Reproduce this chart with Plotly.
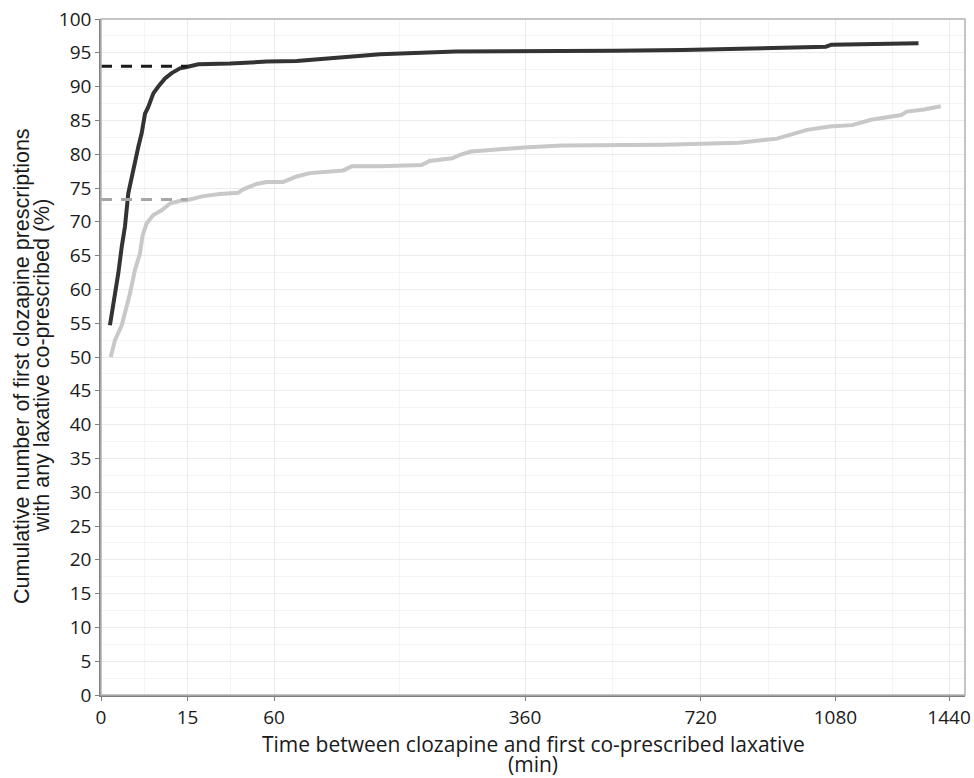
import numpy as np
import plotly.graph_objects as go

# Time (minutes) and cumulative % for each series
dark_t = [0.16, 0.39, 0.6, 0.86, 1.15, 1.49, 1.88, 2.31, 2.79, 3.31, 3.88, 4.48, 5.48, 6.58,
          8.2, 10.0, 12.5, 14.7, 19.0, 33.3, 38.7, 55, 76.7, 90.3, 120.9, 155.8, 252, 377,
          528, 677, 864, 1052, 1068, 1338]
dark_v = [54.7, 58.9, 62.4, 66.3, 69.3, 74.2, 76.7, 78.7, 81.1, 83.1, 86.0, 87.0, 89.0, 90.0,
          91.2, 92.0, 92.7, 92.9, 93.3, 93.4, 93.5, 93.7, 93.8, 94.0, 94.4, 94.8, 95.2, 95.2,
          95.3, 95.4, 95.6, 95.9, 96.2, 96.4]

light_t = [0.19, 0.39, 0.86, 1.32, 1.68, 2.31, 3.04, 3.47, 4.18, 5.48, 7.37, 9.53, 12.5, 14.7,
           18.3, 21.0, 28.3, 37.7, 40.5, 48.5, 55, 66.5, 76.7, 87.4, 117.5, 125.8, 155.8, 206,
           216, 247, 258, 274, 358, 425, 634, 815, 915, 940, 998, 1063, 1130, 1187, 1282, 1300,
           1356, 1412]
light_v = [50.0, 52.5, 54.7, 57.4, 59.4, 62.9, 65.3, 68.0, 69.8, 71.0, 71.7, 72.7, 73.1, 73.2,
           73.5, 73.8, 74.1, 74.3, 74.8, 75.6, 75.9, 75.9, 76.7, 77.2, 77.6, 78.2, 78.2, 78.4,
           79.0, 79.4, 79.9, 80.4, 81.0, 81.3, 81.4, 81.7, 82.3, 82.7, 83.6, 84.1, 84.3, 85.1,
           85.8, 86.3, 86.6, 87.1]

# Reference dashed levels at 15 minutes
ref_t = [0, 15]
dark_ref = 93.0
light_ref = 73.3

x_ticks = [0, 15, 60, 360, 720, 1080, 1440]
y_ticks = list(range(0, 101, 5))

x_title_lines = ["Time between clozapine and first co-prescribed laxative", "(min)"]
y_title_lines = ["Cumulative number of first clozapine prescriptions",
                 "with any laxative co-prescribed (%)"]

sq = np.sqrt
xt = sq(np.array(x_ticks, dtype=float))
x_minor = [(xt[i] + xt[i + 1]) / 2 for i in range(len(xt) - 1)]

fig = go.Figure()
fig.add_trace(go.Scatter(x=sq(np.array(light_t)), y=light_v, mode="lines",
                         line=dict(color="#c8c8c8", width=4), showlegend=False))
fig.add_trace(go.Scatter(x=sq(np.array(dark_t)), y=dark_v, mode="lines",
                         line=dict(color="#333333", width=4), showlegend=False))
fig.add_trace(go.Scatter(x=sq(np.array(ref_t, dtype=float)), y=[dark_ref, dark_ref], mode="lines",
                         line=dict(color="#1a1a1a", width=3, dash="11px,9px"), showlegend=False))
fig.add_trace(go.Scatter(x=sq(np.array(ref_t, dtype=float)), y=[light_ref, light_ref], mode="lines",
                         line=dict(color="#a6a6a6", width=3, dash="11px,9px"), showlegend=False))

tick_font = dict(family="Open Sans, Noto Sans, sans-serif", size=19, color="#1a1a1a")

fig.update_layout(
    width=974, height=778,
    margin=dict(l=101, r=9, t=19, b=83),
    paper_bgcolor="white", plot_bgcolor="white",
    font=dict(family="Open Sans, sans-serif", size=16, color="#1a1a1a"),
)
fig.update_xaxes(
    range=[0, 38.66], tickmode="array", tickvals=list(xt), ticktext=[str(v) for v in x_ticks],
    showgrid=True, gridcolor="#ebebeb", gridwidth=1,
    minor=dict(tickmode="array", tickvals=x_minor, showgrid=True, gridcolor="#f4f4f4", gridwidth=1, ticks=""),
    showline=True, linecolor="#7f7f7f", linewidth=1.5, mirror=False,
    ticks="outside", ticklen=4, tickcolor="#7f7f7f", ticklabeloverflow="allow",
    tickfont=tick_font, zeroline=False, automargin=False,
)
fig.update_yaxes(
    range=[0, 100], tickmode="array", tickvals=y_ticks, ticktext=[str(v) for v in y_ticks],
    showgrid=True, gridcolor="#ebebeb", gridwidth=1,
    minor=dict(dtick=2.5, showgrid=True, gridcolor="#f4f4f4", gridwidth=1, ticks=""),
    showline=True, linecolor="#7f7f7f", linewidth=1.5,
    ticks="outside", ticklen=4, tickcolor="#7f7f7f", ticklabeloverflow="allow",
    tickfont=tick_font, zeroline=False, automargin=False,
)
# axis titles
for line, ys in zip(x_title_lines, [-49, -69]):
    fig.add_annotation(text=line, xref="paper", yref="paper", x=0.5, y=0, yshift=ys,
                       xanchor="center", yanchor="middle", showarrow=False,
                       font=dict(family="Open Sans, Noto Sans, sans-serif", size=21, color="#1a1a1a"))
for line, xs in zip(y_title_lines, [-79, -59]):
    fig.add_annotation(text=line, xref="paper", yref="paper", x=0, y=0.5, xshift=xs, yshift=-9,
                       xanchor="center", yanchor="middle", showarrow=False, textangle=-90,
                       font=dict(family="Liberation Sans, Arial, sans-serif", size=21.5, color="#1a1a1a"))
# panel border
fig.add_shape(type="rect", xref="paper", yref="paper", x0=0, y0=0, x1=1, y1=1,
              line=dict(color="#b3b3b3", width=1.5), layer="above")

fig.write_html("out.html", config={"displayModeBar": False},
               post_script="document.body.style.margin='0';document.body.style.overflow='hidden';")
